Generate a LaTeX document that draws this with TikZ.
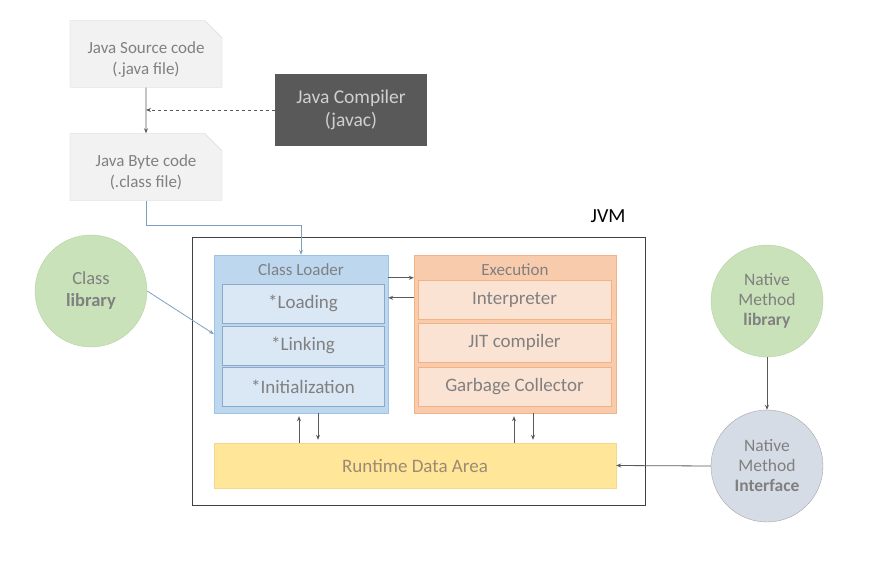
\documentclass[tikz,border=0pt]{standalone}
\usepackage{fontspec}
\setmainfont{Carlito}
\usetikzlibrary{arrows.meta,shapes.misc}

\definecolor{txtgray}{HTML}{808080}
\definecolor{docfill}{HTML}{F2F2F2}
\definecolor{docline}{HTML}{D0D0D0}
\definecolor{javacfill}{HTML}{595959}
\definecolor{loadfill}{HTML}{BDD7EE}
\definecolor{loadline}{HTML}{9DC3E6}
\definecolor{stepfill}{HTML}{DAE7F5}
\definecolor{stepline}{HTML}{8EA9C8}
\definecolor{execfill}{HTML}{F8CBAD}
\definecolor{execline}{HTML}{F4B183}
\definecolor{phasefill}{HTML}{FBE3D4}
\definecolor{rdafill}{HTML}{FFE699}
\definecolor{rdaline}{HTML}{F2D98A}
\definecolor{rdatext}{HTML}{9C8A73}
\definecolor{libfill}{HTML}{C9E2BA}
\definecolor{libline}{HTML}{B5D3A2}
\definecolor{niffill}{HTML}{D6DCE5}
\definecolor{arrowgray}{HTML}{595959}
\definecolor{arrowblue}{HTML}{7F9FC0}

\begin{document}
\begin{tikzpicture}[x=1pt,y=-1pt,
   >={Stealth[length=5pt,width=4pt]},
   font=\fontsize{17}{21}\selectfont,
   docbox/.style={chamfered rectangle, chamfered rectangle corners=north east,
      chamfered rectangle xsep=14pt, draw=docline, fill=docfill, text=txtgray,
      minimum width=152pt, minimum height=67pt, inner sep=0pt, align=center,
      text height=40.8pt, text depth=0pt},
   groupbox/.style={rectangle, minimum width=#1, minimum height=158pt, inner sep=0pt},
   stepbox/.style={rectangle, draw=stepline, fill=stepfill, text=txtgray,
      minimum width=162pt, minimum height=39pt, inner sep=0pt, font=\fontsize{19}{21}\selectfont},
   phasebox/.style={rectangle, draw=execline, fill=phasefill, text=txtgray,
      minimum width=193pt, minimum height=39pt, inner sep=0pt, font=\fontsize{19}{21}\selectfont},
   libcircle/.style={circle, minimum size=112pt, inner sep=0pt, align=center, text=txtgray,
      font=\fontsize{17.5}{20}\selectfont},
   link/.style={->, arrowgray, line width=0.8pt}]

   \useasboundingbox (0,0) rectangle (878,588);

   % source and compiler
   \node[docbox] (src)  at (146,54)  {Java Source code\\(.java file)};
   \node[docbox] (byte) at (146,167) {Java Byte code\\(.class file)};
   \node[rectangle, fill=javacfill, text=docline, minimum width=152pt, minimum height=72pt,
         align=center, font=\fontsize{19.5}{23}\selectfont] (javac) at (351,110) {Java Compiler\\(javac)};

   % JVM
   \node[rectangle, draw=black!75, line width=0.8pt, minimum width=453pt, minimum height=268pt]
         (jvm) at (418.5,371) {};
   \node[font=\fontsize{20}{22}\selectfont, anchor=south east] (jvmlabel) at (629,226) {JVM};

   \node[groupbox=174pt, draw=loadline, fill=loadfill] (loader) at (301,334) {};
   \node[text=txtgray] (loadtitle) at (301,270) {Class Loader};
   \node[stepbox] (load) at (303,303.5) {*Loading};
   \node[stepbox] (link) at (303,345.5) {*Linking};
   \node[stepbox] (init) at (303,387)   {*Initialization};

   \node[groupbox=202pt, draw=execline, fill=execfill] (exec) at (515,334) {};
   \node[text=txtgray] (exectitle) at (515,270) {Execution};
   \node[phasebox] (interp) at (514.5,299.5) {Interpreter};
   \node[phasebox] (jit)    at (514.5,342.5) {JIT compiler};
   \node[phasebox] (gc)     at (514.5,386.5) {Garbage Collector};

   \node[rectangle, draw=rdaline, fill=rdafill, text=rdatext, minimum width=402pt, minimum height=45pt,
         font=\fontsize{19}{21}\selectfont] (rda) at (415,465.5) {Runtime Data Area};

   % libraries
   \node[libcircle, draw=libline, fill=libfill, font=\fontsize{18.5}{22}\selectfont] (clib) at (91,291)
         {Class\\\textbf{library}};
   \node[libcircle, draw=libline, fill=libfill] (nlib) at (767,301)
         {Native\\Method\\\textbf{library}};
   \node[libcircle, draw=txtgray!70, fill=niffill] (nif) at (767,466)
         {Native\\Method\\\textbf{Interface}};

   % connectors
   \draw[link] (src) -- (byte);
   \draw[link, dashed] (javac.west) -- (javac.west -| src.south);
   \draw[->, arrowblue, line width=0.8pt] (byte.south) -- ++(0,25) -| (loader.north);
   \draw[->, arrowblue, line width=0.8pt] (clib.east) -- (loader.west);
   \draw[link] ([yshift=-23pt]loader.north east) -- ([yshift=-23pt]exec.north west);
   \draw[link] ([yshift=-43pt]exec.north west) -- ([yshift=-43pt]loader.north east);
   \draw[link, shorten >=3pt] ([xshift=-2pt]loader.south |- rda.north) -- ([xshift=-2pt]loader.south);
   \draw[link, shorten >=3pt] ([xshift=17pt]loader.south) -- ([xshift=17pt]loader.south |- rda.north);
   \draw[link, shorten >=3pt] ([xshift=-1pt]exec.south |- rda.north) -- ([xshift=-1pt]exec.south);
   \draw[link, shorten >=3pt] ([xshift=18pt]exec.south) -- ([xshift=18pt]exec.south |- rda.north);
   \draw[link] (nlib) -- (nif);
   \draw[link] (nif.west) -- (rda.east);
\end{tikzpicture}
\end{document}
